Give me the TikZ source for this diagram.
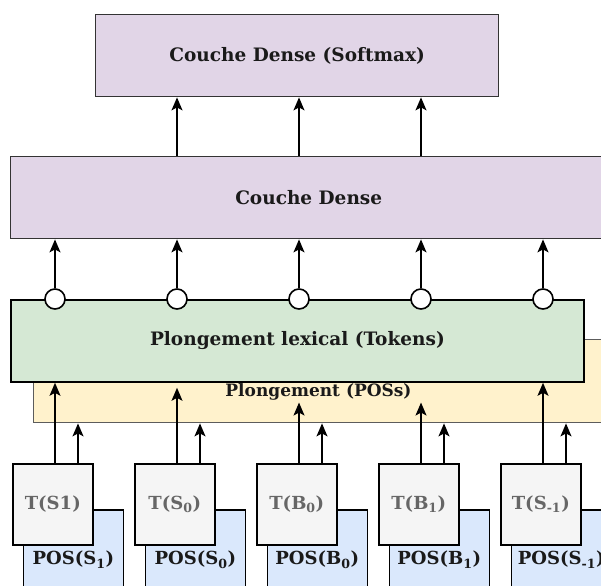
\documentclass[tikz,border=0pt]{standalone}
\usepackage{fontspec}
\setmainfont{DejaVu Serif}
\usetikzlibrary{arrows.meta}
\definecolor{purplefill}{HTML}{E1D5E7}
\definecolor{greenfill}{HTML}{D5E8D4}
\definecolor{yellowfill}{HTML}{FFF2CC}
\definecolor{bluefill}{HTML}{DAE8FC}
\definecolor{greyfill}{HTML}{F5F5F5}
\definecolor{greytext}{HTML}{666666}
\definecolor{edge}{HTML}{333333}
\definecolor{ink}{HTML}{1A1A1A}
\tikzset{
  x=1pt, y=1pt,
  box/.style={draw=edge, line width=1.4pt, rectangle, anchor=north west, inner sep=0pt, text=ink, font=\bfseries\fontsize{18.5}{20}\selectfont},
  lbl/.style={text=ink, font=\bfseries\fontsize{17}{19}\selectfont},
  tbox/.style={draw=black, line width=1.6pt, fill=greyfill, rectangle, anchor=north west, minimum width=80pt, minimum height=81pt, inner sep=0pt, text=greytext, font=\bfseries\fontsize{18}{20}\selectfont},
  posbox/.style={draw=black, line width=1.6pt, fill=bluefill, rectangle, anchor=north west, minimum width=100pt, minimum height=100pt, inner sep=0pt, text=ink, font=\bfseries\fontsize{18}{20}\selectfont},
  knob/.style={draw=black, line width=1.6pt, fill=white, circle, minimum size=20pt, inner sep=0pt},
  arr/.style={line width=1.4pt, -{Stealth[length=13pt, width=11pt, inset=3pt]}},
}
\begin{document}
\begin{tikzpicture}
\useasboundingbox (0,0) rectangle (601,-585);
\begin{scope}
\clip (0,0) rectangle (601,-585);
% top layers
\node[box, fill=purplefill, minimum width=403pt, minimum height=82pt] (soft) at (95,-14) {Couche Dense (Softmax)};
\node[box, fill=purplefill, minimum width=596pt, minimum height=82pt] (dense) at (10,-156) {Couche Dense};
% embeddings
\node[box, fill=yellowfill, draw=edge!80, minimum width=573pt, minimum height=83pt] (yel) at (33,-339) {};
\node[box, fill=greenfill, draw=black, line width=1.8pt, minimum width=573pt, minimum height=82pt] (green) at (10,-299) {Plongement lexical (Tokens)};
\node[lbl, inner sep=1pt] (poslbl) at (318.5,-392) {Plongement (POSs)};
% inputs
\node[posbox] (P0) at (22.5,-509) {POS(S\textsubscript{1})};
\node[posbox] (P1) at (144.5,-509) {POS(S\textsubscript{0})};
\node[posbox] (P2) at (266.5,-509) {POS(B\textsubscript{0})};
\node[posbox] (P3) at (388.5,-509) {POS(B\textsubscript{1})};
\node[posbox] (P4) at (510.5,-509) {POS(S\textsubscript{-1})};
\node[tbox] (T0) at (12,-463) {T(S1)};
\node[tbox] (T1) at (134,-463) {T(S\textsubscript{0})};
\node[tbox] (T2) at (256,-463) {T(B\textsubscript{0})};
\node[tbox] (T3) at (378,-463) {T(B\textsubscript{1})};
\node[tbox] (T4) at (500,-463) {T(S\textsubscript{-1})};
% anchors for arrows
\foreach \k in {0,...,4}{
  \coordinate (a\k) at ([xshift=43pt]T\k.north west);
  \coordinate (b\k) at ([xshift=66pt]T\k.north west);
  \node[knob] (c\k) at (a\k |- green.north) {};
}
\coordinate (lblbot) at ([yshift=-1pt]poslbl.south);
% long arrows
\draw[arr] (a0) -- (a0 |- green.south);
\draw[arr] (a1) -- ([yshift=-5pt]a1 |- green.south);
\draw[arr] (a2) -- (a2 |- lblbot);
\draw[arr] (a3) -- (a3 |- lblbot);
\draw[arr] (a4) -- (a4 |- green.south);
% short arrows
\foreach \k in {0,...,4}{
  \draw[arr] (b\k) -- (b\k |- yel.south);
  \draw[arr] (c\k.north) -- (c\k.north |- dense.south);
}
% to softmax
\foreach \k in {1,2,3}{
  \draw[arr] (a\k |- dense.north) -- (a\k |- soft.south);
}
\end{scope}
\end{tikzpicture}
\end{document}
